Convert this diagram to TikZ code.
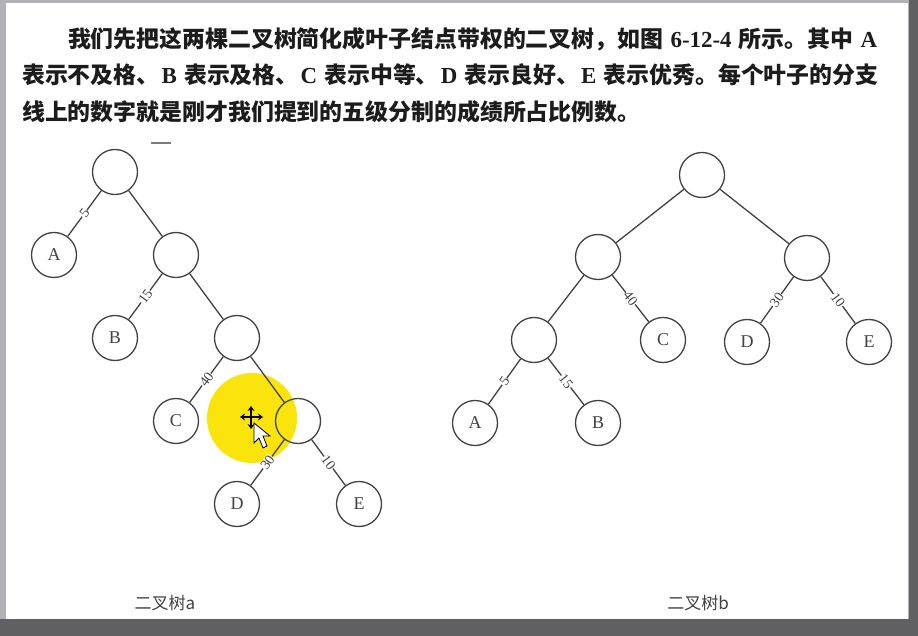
\documentclass[tikz,border=0pt]{standalone}
\usepackage{fontspec}
\setmainfont{Liberation Serif}
\newfontfamily\cjk{Noto Sans CJK SC}
\usepackage{tikz}
\usetikzlibrary{arrows.meta,positioning}
\definecolor{scanink}{RGB}{66,66,68}
\definecolor{scantext}{RGB}{28,28,28}
\definecolor{framedark}{RGB}{96,95,100}
\definecolor{framelight}{RGB}{178,178,182}
\definecolor{hiliteyellow}{RGB}{250,228,12}
\newcommand\ltn[1]{\hspace{2pt}{\rmfamily\bfseries #1}\hspace{2pt}}
\tikzset{
  inode/.style={circle, draw=scanink, line width=1.3pt, minimum size=45pt, inner sep=0pt},
  leaf/.style={inode, font=\fontsize{18}{18}\selectfont, text=scanink},
  branch/.style={draw=scanink, line width=1.3pt},
  wt/.style={sloped, fill=white, inner sep=0.4pt, font=\fontsize{14}{14}\selectfont, text=scanink},
  treecap/.style={font=\cjk\fontsize{17}{17}\selectfont, text=scanink},
  para/.style={align=left, inner sep=0pt, font=\cjk\bfseries\fontsize{22.9}{36.5}\selectfont, text=scantext}
}

\begin{document}
\begin{tikzpicture}[x=1pt, y=-1pt, node distance=83pt and 61pt, on grid]
        \fill[framedark] (0,0) rectangle (918,636);
        \fill[framelight] (0,0) rectangle (909,619);
        \fill[white] (6,3) rectangle (908,619);
        \fill[hiliteyellow] (252,418) circle[radius=45];
        \draw[scanink!70, line width=2.5pt] (151,143) -- (171,143);

        \node[para, anchor=north west] (intro) at (22,27)
          {\hspace*{2em}我们先把这两棵二叉树简化成叶子结点带权的二叉树，如图 \ltn{6-12-4} 所示。其中 \ltn{A}\\
           表示不及格、\ltn{B} 表示及格、\ltn{C} 表示中等、\ltn{D} 表示良好、\ltn{E} 表示优秀。每个叶子的分支\\
           线上的数字就是刚才我们提到的五级分制的成绩所占比例数。};

        % tree a
        \node[inode] (ra) at (115,172) {};
        \node[leaf, below left=of ra] (aA) {A};
        \node[inode, below right=of ra] (a2) {};
        \node[leaf, below left=of a2] (aB) {B};
        \node[inode, below right=of a2] (a3) {};
        \node[leaf, below left=of a3] (aC) {C};
        \node[inode, below right=of a3] (a4) {};
        \node[leaf, below left=of a4] (aD) {D};
        \node[leaf, below right=of a4] (aE) {E};

        \draw[branch] (ra) -- node[wt] {5} (aA);
        \draw[branch] (ra) -- (a2);
        \draw[branch] (a2) -- node[wt] {15} (aB);
        \draw[branch] (a2) -- (a3);
        \draw[branch] (a3) -- node[wt] {40} (aC);
        \draw[branch] (a3) -- (a4);
        \draw[branch] (a4) -- node[wt] {30} (aD);
        \draw[branch] (a4) -- node[wt] {10} (aE);

        % tree b
        \node[inode] (rb) at (702,175) {};
        \node[inode, below left=82pt and 104pt of rb] (b1) {};
        \node[inode, below right=83pt and 105pt of rb] (b2) {};
        \node[inode, below left=83pt and 64pt of b1] (b3) {};
        \node[leaf, below right=83pt and 65pt of b1] (bC) {C};
        \node[leaf, below left=84pt and 60pt of b2] (bD) {D};
        \node[leaf, below right=84pt and 62pt of b2] (bE) {E};
        \node[leaf, below left=83pt and 59pt of b3] (bA) {A};
        \node[leaf, below right=83pt and 64pt of b3] (bB) {B};

        \draw[branch] (rb) -- (b1);
        \draw[branch] (rb) -- (b2);
        \draw[branch] (b1) -- (b3);
        \draw[branch] (b1) -- node[wt] {40} (bC);
        \draw[branch] (b2) -- node[wt] {30} (bD);
        \draw[branch] (b2) -- node[wt] {10} (bE);
        \draw[branch] (b3) -- node[wt] {5} (bA);
        \draw[branch] (b3) -- node[wt] {15} (bB);

        \node[treecap] (capa) at (165,603) {二叉树a};
        \node[treecap] (capb) at (698,603) {二叉树b};

        % pointer over the highlight
        \draw[line width=1.6pt, {Stealth[length=5pt,width=7pt]}-{Stealth[length=5pt,width=7pt]}] (240,417) -- (263,417);
        \draw[line width=1.6pt, {Stealth[length=5pt,width=7pt]}-{Stealth[length=5pt,width=7pt]}] (251,406) -- (251,429);
        \filldraw[fill=white, draw=black, line width=0.8pt]
          (254,423) -- (254,443) -- (259,438) -- (263,448) -- (267,446) -- (263,436) -- (270,436) -- cycle;
      \end{tikzpicture}
\end{document}
